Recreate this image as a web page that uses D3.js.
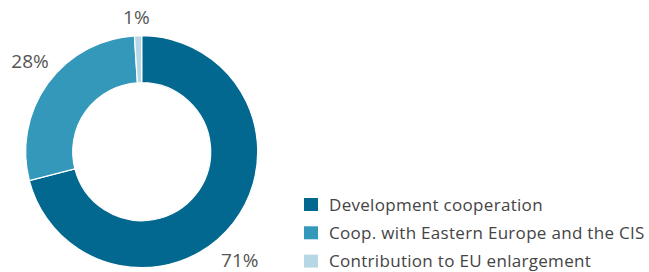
<!DOCTYPE html>
<html>
<head>
<meta charset="utf-8">
<script src="https://cdn.jsdelivr.net/npm/d3@7"></script>
<style>
  body { margin: 0; background: #fff; }
  text { font-family: "Open Sans", sans-serif; }
</style>
</head>
<body>
<div id="chart"></div>
<script>
const categories = ["Development cooperation", "Coop. with Eastern Europe and the CIS", "Contribution to EU enlargement"];
const values = [71, 28, 1];
const labels = ["71%", "28%", "1%"];
const colors = ["#03688f", "#3398ba", "#b6d7e5"];

var width = 649;
var height = 272;

var cx = 141.7, cy = 151.7;
var outerR = 116, innerR = 69;

var svg = d3.select("#chart")
    .append("svg")
    .attr("width", width)
    .attr("height", height);

var pie = d3.pie().sort(null).value(d => d);
var arcs = pie(values);

var arc = d3.arc()
    .innerRadius(innerR)
    .outerRadius(outerR);

var g = svg.append("g")
    .attr("transform", "translate(" + cx + "," + cy + ")");

g.selectAll("path")
    .data(arcs)
    .enter().append("path")
    .attr("d", arc)
    .attr("fill", (d, i) => colors[i])
    .attr("stroke", "#fff")
    .attr("stroke-width", 1.2);

// labels sit outside the ring, nudged by hand to match the original
var labelR = 138;
var nudge = [[-11, 24], [0, -10], [-1, 3]];
g.selectAll("text.lbl")
    .data(arcs)
    .enter().append("text")
    .attr("class", "lbl")
    .attr("x", (d, i) => Math.sin((d.startAngle + d.endAngle) / 2) * labelR + nudge[i][0])
    .attr("y", (d, i) => -Math.cos((d.startAngle + d.endAngle) / 2) * labelR + nudge[i][1])
    .attr("text-anchor", "middle")
    .attr("dominant-baseline", "central")
    .attr("font-size", 19)
    .attr("fill", "#555")
    .text((d, i) => labels[i]);

var legend = svg.append("g")
    .attr("transform", "translate(304,198)");

var row = legend.selectAll("g")
    .data(categories)
    .enter().append("g")
    .attr("transform", (d, i) => "translate(0," + (i * 28.3) + ")");

row.append("rect")
    .attr("width", 14)
    .attr("height", 13)
    .attr("fill", (d, i) => colors[i]);

row.append("text")
    .attr("x", 25)
    .attr("y", 12.5)
    .attr("font-size", 17)
    .attr("letter-spacing", 0.3)
    .attr("fill", "#444")
    .text(d => d);
</script>
</body>
</html>
